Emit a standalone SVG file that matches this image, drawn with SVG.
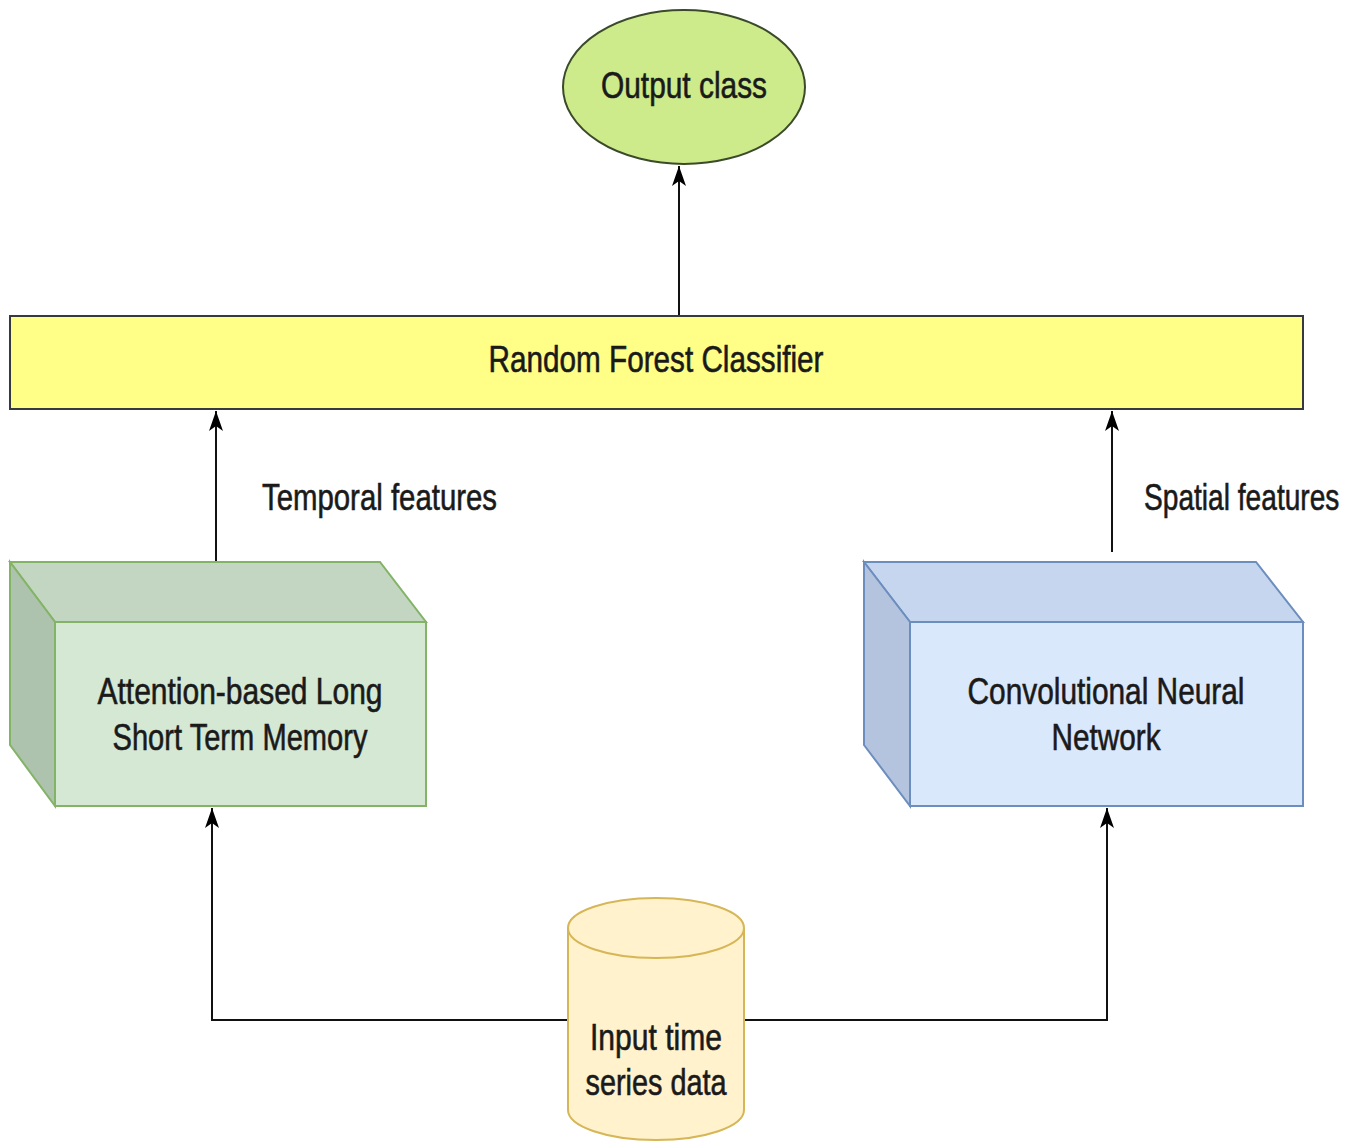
<svg xmlns="http://www.w3.org/2000/svg" width="1364" height="1144" viewBox="0 0 1364 1144">
<defs>
<marker id="up" viewBox="0 0 14 20" refX="7" refY="0" markerWidth="14" markerHeight="20" markerUnits="userSpaceOnUse" orient="0">
<path d="M7,0 L14,20 L7,15 L0,20 Z" fill="#000"/>
</marker>
</defs>
<style>
text{font-family:"Liberation Sans",Arial,sans-serif;font-size:37px;fill:#1a1a1a;stroke:#1a1a1a;stroke-width:0.6;}
.c{text-anchor:middle;}
.ln{stroke:#111;stroke-width:2;fill:none;}
</style>
<rect width="1364" height="1144" fill="#fff"/>
<g id="connectors">
<path class="ln" d="M679,316 L679,166" marker-end="url(#up)"/>
<path class="ln" d="M216,562 L216,411" marker-end="url(#up)"/>
<path class="ln" d="M1112,552 L1112,411" marker-end="url(#up)"/>
<path class="ln" d="M568,1020 L212,1020 L212,808" marker-end="url(#up)"/>
<path class="ln" d="M744,1020 L1107,1020 L1107,808" marker-end="url(#up)"/>
<text x="262" y="510" textLength="235" lengthAdjust="spacingAndGlyphs">Temporal features</text>
<text transform="translate(1144,510) scale(0.76,1)" x="0" y="0">Spatial features</text>
</g>
<g id="output">
<ellipse cx="684" cy="87" rx="121" ry="77" fill="#cdeb8b" stroke="#3a4a2a" stroke-width="2"/>
<text x="684" y="98" class="c" textLength="166" lengthAdjust="spacingAndGlyphs">Output class</text>
</g>
<g id="rf">
<rect x="10" y="316" width="1293" height="93" fill="#ffff88" stroke="#36393d" stroke-width="2"/>
<text x="656" y="372" class="c" textLength="335" lengthAdjust="spacingAndGlyphs">Random Forest Classifier</text>
</g>
<g id="lstm">
<path d="M10,562 L380,562 L426,622 L55,622 Z" fill="#c3d6c2" stroke="#82b366" stroke-width="2"/>
<path d="M10,562 L55,622 L55,806 L10,745 Z" fill="#aec3ad" stroke="#82b366" stroke-width="2"/>
<rect x="55" y="622" width="371" height="184" fill="#d5e8d4" stroke="#82b366" stroke-width="2"/>
<text x="240" y="704" class="c" textLength="285" lengthAdjust="spacingAndGlyphs">Attention-based Long</text>
<text x="240" y="750" class="c" textLength="255" lengthAdjust="spacingAndGlyphs">Short Term Memory</text>
</g>
<g id="cnn">
<path d="M864,562 L1256,562 L1303,622 L910,622 Z" fill="#c5d6ee" stroke="#6c8ebf" stroke-width="2"/>
<path d="M864,562 L910,622 L910,806 L864,745 Z" fill="#b4c4de" stroke="#6c8ebf" stroke-width="2"/>
<rect x="910" y="622" width="393" height="184" fill="#dae8fc" stroke="#6c8ebf" stroke-width="2"/>
<text x="1106" y="704" class="c" textLength="277" lengthAdjust="spacingAndGlyphs">Convolutional Neural</text>
<text x="1106" y="750" class="c" textLength="109" lengthAdjust="spacingAndGlyphs">Network</text>
</g>
<g id="input">
<path d="M568,928 L568,1110 A88,30 0 0 0 744,1110 L744,928" fill="#fff2cc" stroke="#d6b656" stroke-width="2"/>
<ellipse cx="656" cy="928" rx="88" ry="30" fill="#fff2cc" stroke="#d6b656" stroke-width="2"/>
<text x="656" y="1050" class="c" textLength="132" lengthAdjust="spacingAndGlyphs">Input time</text>
<text x="656" y="1095" class="c" textLength="141" lengthAdjust="spacingAndGlyphs">series data</text>
</g>
</svg>
